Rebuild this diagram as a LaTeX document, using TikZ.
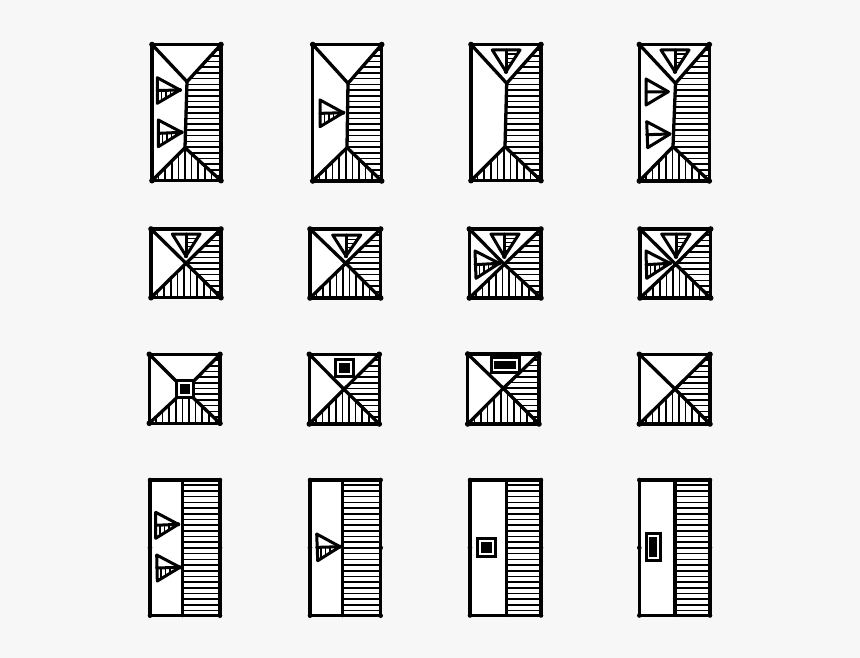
\documentclass[tikz,border=0pt]{standalone}
\definecolor{pagebg}{HTML}{F7F7F7}
\tikzset{
  outline/.style={draw=black,line width=3.4pt,line cap=round,line join=round},
  ridge/.style={draw=black,line width=3.3pt,line cap=round,line join=round},
  dormerline/.style={draw=black,line width=3pt,line cap=round,line join=round},
  hatchline/.style={draw=black,line width=1.6pt},
  thin hatch/.style={draw=black,line width=1.4pt},
  windowline/.style={draw=black,line width=3pt,line join=miter,fill=white},
  cornerdot/.style={fill=black,draw=none}
}
% horizontal hatch inside a polygon path
\newcommand{\hatchH}[4]{% path, xl, xr, ytop
  \begin{scope}\clip #1;
    \foreach \k in {1,...,26} \draw[hatchline] (#2,{#4+\k*5.7}) -- (#3,{#4+\k*5.7});
  \end{scope}}
\newcommand{\hatchV}[4]{% path, yt, yb, xleft
  \begin{scope}\clip #1;
    \foreach \k in {1,...,13} \draw[hatchline] ({#4+\k*6.6},#2) -- ({#4+\k*6.6},#3);
  \end{scope}}
% hip roof: L T R B, upper ridge point, lower ridge point
\newcommand{\hiproof}[8]{%
  \fill[white] (#1,#2) rectangle (#3,#4);
  \hatchH{(#3,#2) -- (#5,#6) -- (#7,#8) -- (#3,#4) -- cycle}{#5-8}{#3}{#2}
  \hatchV{(#1,#4) -- (#7,#8) -- (#3,#4) -- cycle}{#8}{#4}{#1}
  \draw[ridge] (#1,#2) -- (#5,#6) -- (#3,#2);
  \draw[ridge] (#1,#4) -- (#7,#8) -- (#3,#4);
  \draw[ridge] (#5,#6) -- (#7,#8);
  \draw[outline] (#1,#2) rectangle (#3,#4);
  \foreach \cx/\cy in {#1/#2,#3/#2,#1/#4,#3/#4}
    \fill[cornerdot] (\cx,\cy) circle (2.8pt);
}
% shed roof: L T R B divider
\newcommand{\shedroof}[5]{%
  \fill[white] (#1,#2) rectangle (#3,#4);
  \hatchH{(#5,#2) rectangle (#3,#4)}{#5}{#3}{#2-0.5}
  \draw[ridge] (#5,#2) -- (#5,#4);
  \draw[outline] (#1,#2) rectangle (#3,#4);
  \foreach \cx/\cy in {#1/#2,#3/#2,#1/#4,#3/#4,#3/{(#2+#4)/2},#1/{(#2+#4)/2}}
    \fill[cornerdot] (\cx,{\cy}) circle (2.3pt);
}
% dormer pointing right with hatched lower half
\newcommand{\dormerR}[6]{%
  \fill[white] (#1,#2) -- (#3,#4) -- (#5,#6) -- cycle;
  \begin{scope}\clip (#1,{(#2+#6)/2}) -- (#3,#4) -- (#5,#6) -- cycle;
    \foreach \k in {1,...,4} \draw[thin hatch] ({#1+\k*4.4},#4-2) -- ({#1+\k*4.4},#6);
  \end{scope}
  \draw[dormerline] (#1,{(#2+#6)/2}) -- (#3,#4);
  \draw[dormerline] (#1,#2) -- (#3,#4) -- (#5,#6) -- cycle;
  \fill[cornerdot] (#3,#4) circle (2pt);
}
\newcommand{\dormerPlain}[6]{%
  \fill[white] (#1,#2) -- (#3,#4) -- (#5,#6) -- cycle;
  \draw[dormerline] (#1,{(#2+#6)/2}) -- (#3,#4);
  \draw[dormerline] (#1,#2) -- (#3,#4) -- (#5,#6) -- cycle;
}
% dormer pointing down; args ax bx ytop tipx tipy
\newcommand{\dormerD}[5]{%
  \fill[white] (#1,#3) -- (#2,#3) -- (#4,#5) -- cycle;
  \begin{scope}\clip (#4,#3) -- (#2,#3) -- (#4,#5) -- cycle;
    \foreach \k in {1,...,4} \draw[thin hatch] (#4,{#3+\k*4.2}) -- (#2,{#3+\k*4.2});
  \end{scope}
  \draw[dormerline] (#4,#3) -- (#4,#5);
  \draw[dormerline] (#1,#3) -- (#2,#3) -- (#4,#5) -- cycle;
  \fill[cornerdot] (#4,#5) circle (2.2pt);
}
% window: outer box, inner black box
\newcommand{\windowbox}[8]{%
  \draw[windowline] (#1,#2) rectangle (#3,#4);
  \fill[black] (#5,#6) rectangle (#7,#8);
}
\begin{document}
\begin{tikzpicture}[x=1pt,y=-1pt]
\useasboundingbox (0,0) rectangle (860,658);
\fill[pagebg] (0,0) rectangle (860,658);
% ---- row 1
\hiproof{152}{44.5}{221}{180.7}{187}{81.7}{185}{147.7}
\dormerR{157.3}{77.7}{180}{90}{157.3}{103.3}
\dormerR{158.3}{120}{181.7}{132.3}{158.3}{146.7}
\hiproof{312.7}{44.5}{381.7}{181}{348}{83.3}{347}{147.7}
\dormerR{320}{100}{343.3}{112.7}{320}{126.7}
\hiproof{471}{44.5}{541}{180.7}{506.7}{83.3}{505}{146.7}
\dormerD{492.3}{520}{50}{506}{71.7}
\hiproof{639.3}{44.5}{709.3}{181}{675.5}{83.3}{673}{146.7}
\dormerD{661}{689}{50}{675}{71.7}
\dormerPlain{646}{79}{668.3}{91.7}{646}{105}
\dormerPlain{646.7}{121.7}{670}{134}{647.7}{147.7}
% ---- row 2
\hiproof{151}{229}{221}{297.7}{186}{263.3}{186}{263.3}
\dormerD{172.3}{200}{234}{186}{256}
\hiproof{310}{229}{380.7}{298}{345.7}{263.3}{345.7}{263.3}
\dormerD{332.7}{360.7}{235}{346}{256}
\hiproof{469.3}{229}{541}{298}{504.3}{264.3}{504.3}{264.3}
\dormerD{491}{519}{234}{504.3}{256.7}
\dormerR{475}{251}{499.3}{263.3}{476}{278.3}
\hiproof{640}{229}{710.7}{298}{675.7}{264.3}{675.7}{264.3}
\dormerD{661.7}{690}{234}{676}{256.7}
\dormerR{646}{251}{670}{263.3}{646.7}{278.3}
% ---- row 3
\hiproof{149.3}{354.3}{220}{423.3}{185}{390}{185}{390}
\windowbox{176.5}{380.5}{193.5}{397.5}{179.8}{383.8}{190.2}{394.2}
\hiproof{309.3}{354.3}{379.3}{424}{344}{389.3}{344}{389.3}
\windowbox{335.5}{359.5}{353}{376.5}{338.8}{362.8}{349.7}{373.3}
\hiproof{467.7}{354}{539}{424}{503.3}{388.3}{503.3}{388.3}
\windowbox{491}{357.7}{519}{372.3}{494.3}{361}{515.7}{369}
\hiproof{639.3}{354.3}{710}{424}{675}{389}{675}{389}
% ---- row 4
\shedroof{150}{480}{220}{615.7}{182.7}
\dormerR{155.7}{512.3}{178.3}{524.3}{155.7}{538.3}
\dormerR{156.7}{555}{180}{567.3}{157.3}{581}
\shedroof{310}{480}{380.7}{615.7}{342.7}
\dormerR{316.7}{534}{340}{546.7}{317.7}{560.7}
\shedroof{470}{480}{541}{615.5}{506.7}
\windowbox{477}{538.5}{495}{556.5}{480.5}{542.3}{491.5}{553}
\shedroof{639.3}{480}{710}{615.5}{675}
\windowbox{646}{533.3}{660.7}{560}{649.3}{536.6}{657.4}{556.7}
\end{tikzpicture}
\end{document}
